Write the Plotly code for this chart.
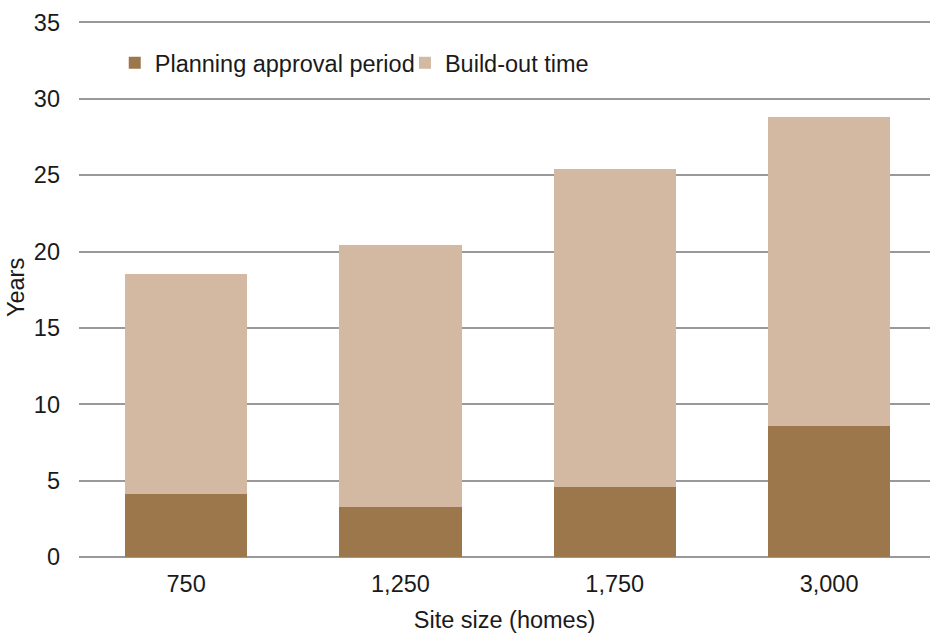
import plotly.graph_objects as go

categories = ["750", "1,250", "1,750", "3,000"]
planning = [4.1, 3.3, 4.6, 8.6]
buildout = [14.4, 17.1, 20.8, 20.2]
y_ticks = [0, 5, 10, 15, 20, 25, 30, 35]

font = "Liberation Sans, Arial, sans-serif"
FS = 23.5

fig = go.Figure()
fig.add_trace(go.Bar(x=categories, y=planning, name="Planning approval period",
                     marker=dict(color="#9C774C", line=dict(width=0)), width=0.57,
                     legend="legend"))
fig.add_trace(go.Bar(x=categories, y=buildout, name="Build-out time",
                     marker=dict(color="#D3B9A1", line=dict(width=0)), width=0.57,
                     legend="legend2"))

leg_common = dict(orientation="h", y=0.9165, xanchor="left", yanchor="middle",
                  font=dict(size=FS, family=font, color="#1a1a1a"), itemwidth=30,
                  bgcolor="rgba(0,0,0,0)")

fig.update_layout(
    barmode="stack",
    width=930, height=635,
    margin=dict(l=79, r=0, t=18, b=78),
    plot_bgcolor="white", paper_bgcolor="white",
    font=dict(family=font, size=FS, color="#1a1a1a"),
    showlegend=True,
    legend=dict(x=0.042, **leg_common),
    legend2=dict(x=0.383, **leg_common),
    xaxis=dict(range=[-0.5, 3.471], showgrid=False, ticks="", showline=False,
               tickfont=dict(size=FS), ticklabelstandoff=10,
               title=dict(text="Site size (homes)", font=dict(size=FS), standoff=16)),
    yaxis=dict(range=[0, 35.29], tickvals=y_ticks, showgrid=True, gridcolor="#999999",
               gridwidth=2, zeroline=True, zerolinecolor="#999999", zerolinewidth=2,
               ticks="", tickfont=dict(size=FS), ticklabelstandoff=18,
               title=dict(text="Years", font=dict(size=FS), standoff=2)),
)

fig.write_html("out.html")
